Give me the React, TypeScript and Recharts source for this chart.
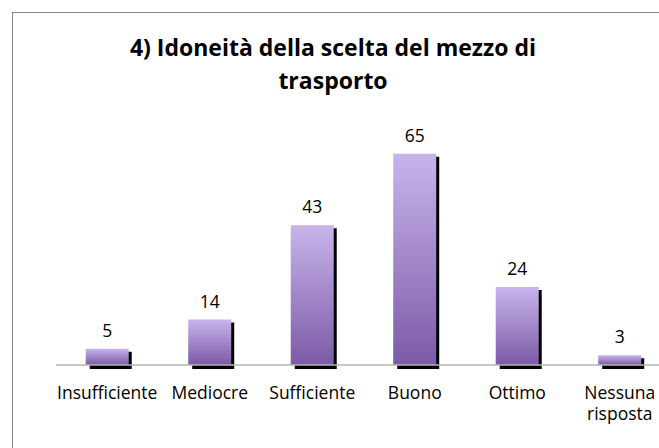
import { BarChart, Bar, XAxis, YAxis, LabelList } from 'recharts';

const categories = ['Insufficiente', 'Mediocre', 'Sufficiente', 'Buono', 'Ottimo', 'Nessuna risposta'];
const counts = [5, 14, 43, 65, 24, 3];
const titleLines = ['4) Idoneità della scelta del mezzo di', 'trasporto'];

const data = categories.map((name, i) => ({ name, value: counts[i] }));

const FONT = '"Open Sans", sans-serif';

// bar with a hard black drop shadow, like the old Excel style
function ShadowBar(props: any) {
  const { x, y, width, height } = props;
  if (!height) return null;
  return (
    <g>
      <rect x={x + 4} y={y + 3} width={width - 1} height={height + 1} fill="#000" />
      <rect x={x} y={y} width={width} height={height} fill="url(#barFill)" />
    </g>
  );
}

function CategoryTick(props: any) {
  const { x, y, payload } = props;
  const words = String(payload.value).split(' ');
  return (
    <text x={x} y={y} textAnchor="middle" fill="#000" fontSize={17.5} fontFamily={FONT}>
      {words.map((w, i) => (
        <tspan key={i} x={x} dy={i === 0 ? 34 : 21}>{w}</tspan>
      ))}
    </text>
  );
}

function ValueLabel(props: any) {
  const { x, y, width, value } = props;
  return (
    <text x={x + width / 2} y={y - 12} textAnchor="middle" fill="#000" fontSize={17.5} fontFamily={FONT}>
      {value}
    </text>
  );
}

export default function App() {
  return (
    <div style={{ position: 'fixed', left: 0, top: 0, width: 659, height: 448, overflow: 'hidden', background: '#fff' }}>
      <div
        style={{
          position: 'absolute', left: 12, top: 12, width: 700, height: 500,
          borderLeft: '1px solid #888', borderTop: '1px solid #888',
        }}
      />
      <div
        style={{
          position: 'absolute', left: 8, top: 31, width: 650, textAlign: 'center',
          fontFamily: FONT, fontWeight: 700, fontSize: 23, lineHeight: '33px', color: '#000',
        }}
      >
        {titleLines.map((t) => <div key={t}>{t}</div>)}
      </div>
      <div style={{ position: 'absolute', left: 8, top: 8 }}>
        <BarChart
          width={680}
          height={432}
          data={data}
          margin={{ top: 129.5, right: 17, bottom: 15, left: 48 }}
          barCategoryGap="29%"
        >
          <defs>
            <linearGradient id="barFill" x1="0" y1="0" x2="0" y2="1">
              <stop offset="0%" stopColor="#C8B4EB" />
              <stop offset="100%" stopColor="#7C5AA6" />
            </linearGradient>
          </defs>
          <XAxis
            dataKey="name"
            height={60}
            tickLine={false}
            tickSize={0}
            tickMargin={0}
            interval={0}
            axisLine={{ stroke: '#b5b5b5', strokeWidth: 1.5 }}
            tick={<CategoryTick />}
          />
          <YAxis hide width={0} domain={[0, 70]} />
          <Bar dataKey="value" shape={<ShadowBar />} isAnimationActive={false}>
            <LabelList dataKey="value" content={<ValueLabel />} />
          </Bar>
        </BarChart>
      </div>
    </div>
  );
}
